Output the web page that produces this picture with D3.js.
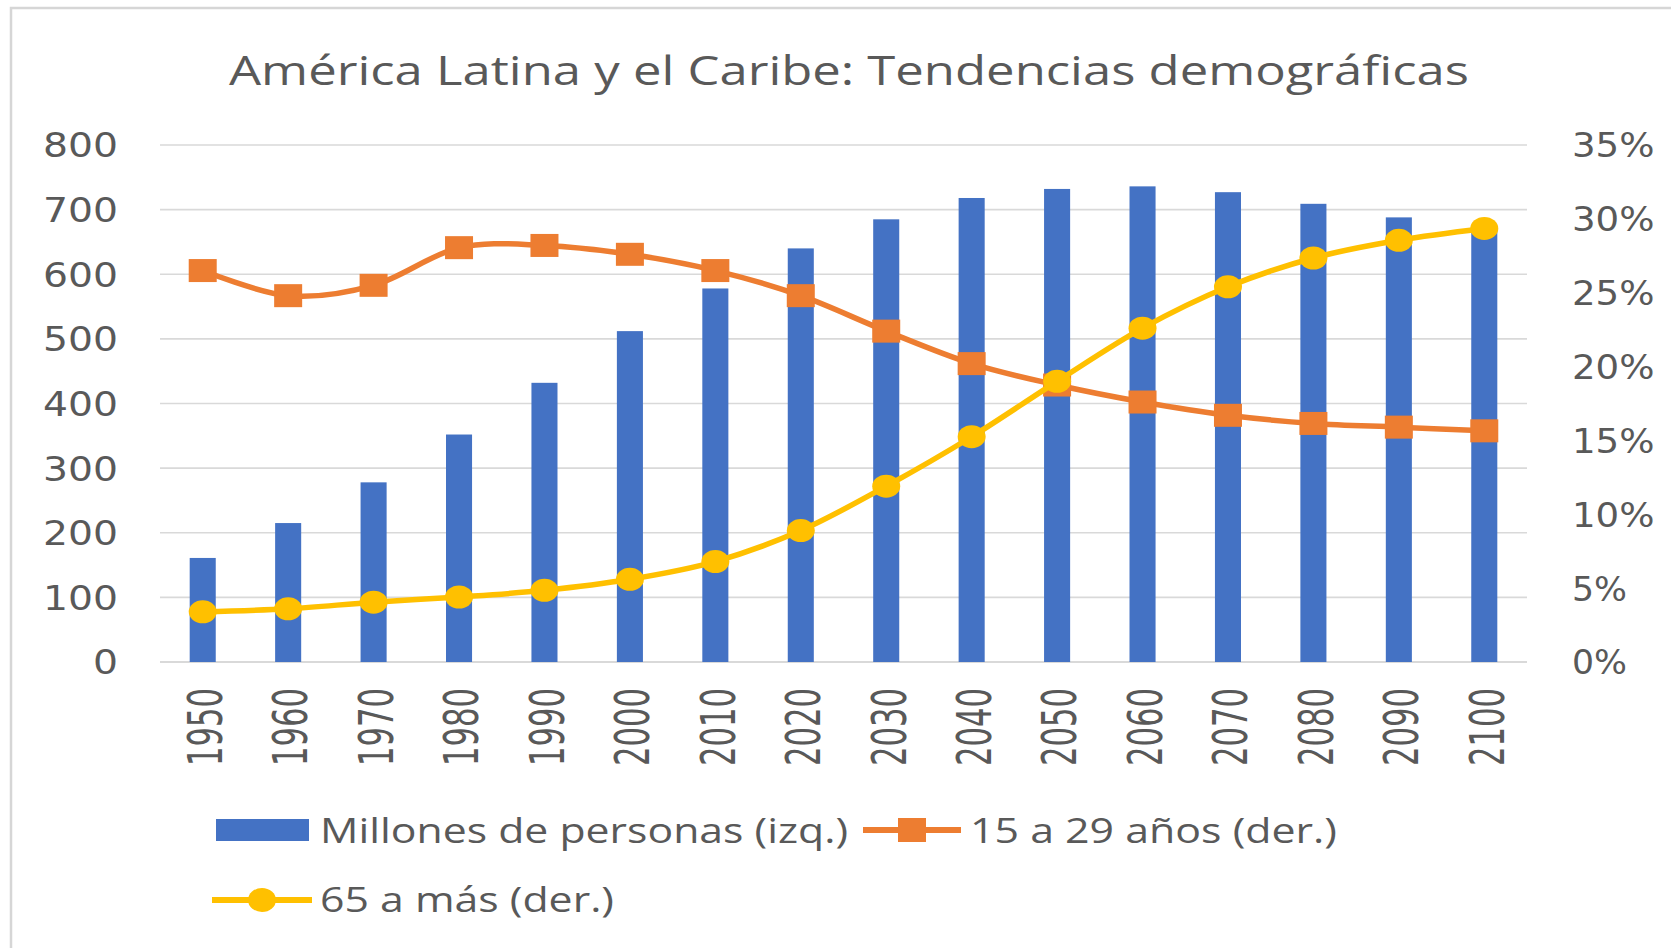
<!DOCTYPE html>
<html><head><meta charset="utf-8">
<script src="https://cdn.jsdelivr.net/npm/d3@7"></script>
<style>html,body{margin:0;padding:0;background:#fff;overflow:hidden}</style>
</head><body>
<svg id="chart" width="1671" height="948"></svg>
<script>
const years = ["1950","1960","1970","1980","1990","2000","2010","2020","2030","2040","2050","2060","2070","2080","2090","2100"];
const poblacion = [161, 215, 278, 352, 432, 512, 578, 640, 685, 718, 732, 736, 727, 709, 688, 669];
const jovenes = [26.5, 24.8, 25.5, 28.05, 28.2, 27.6, 26.5, 24.8, 22.4, 20.2, 18.75, 17.6, 16.7, 16.15, 15.9, 15.65];
const mayores = [3.4, 3.6, 4.05, 4.4, 4.85, 5.6, 6.8, 8.9, 11.9, 15.25, 19.0, 22.6, 25.4, 27.35, 28.55, 29.35];
const leftTicks = [0,100,200,300,400,500,600,700,800];
const rightTicks = [0,0.05,0.10,0.15,0.20,0.25,0.30,0.35];
const title = "América Latina y el Caribe: Tendencias demográficas";
const legendLabels = ["Millones de personas (izq.)", "15 a 29 años (der.)", "65 a más (der.)"];

const BLUE="#4472C4", ORANGE="#ED7D31", YELLOW="#FFC000", GRID="#D9D9D9", TXT="#595959";
const svg = d3.select("#chart");
const L=160, R=1527, T=145, B=662;

// border
svg.append("rect").attr("x",11).attr("y",8).attr("width",1700).attr("height",980)
  .attr("fill","#fff").attr("stroke","#D6D6D6").attr("stroke-width",2.5);

const x = d3.scaleBand().domain(years).range([L,R]).paddingInner(0.695).paddingOuter(0.3475);
const yL = d3.scaleLinear().domain([0,800]).range([B,T]);
const yR = d3.scaleLinear().domain([0,0.35]).range([B,T]);

// gridlines
svg.append("g").selectAll("line").data(leftTicks).join("line")
  .attr("x1",L).attr("x2",R).attr("y1",d=>yL(d)).attr("y2",d=>yL(d))
  .attr("stroke",GRID).attr("stroke-width",d=>d===0?2.2:1.6);

// title
svg.append("text").attr("x",849).attr("y",85).attr("text-anchor","middle")
  .attr("font-family","'Open Sans', sans-serif").attr("font-size",40).attr("fill",TXT)
  .attr("textLength",1240).attr("lengthAdjust","spacingAndGlyphs").text(title);

// left axis labels
const left = d3.axisLeft(yL).tickValues(leftTicks).tickSize(0).tickPadding(0).tickFormat(d3.format("d"));
const gl = svg.append("g").attr("transform",`translate(118,0)`).call(left);
gl.select(".domain").remove();
gl.selectAll("text").attr("font-family","'DejaVu Sans', sans-serif").attr("font-size",33)
  .attr("fill",TXT).attr("dy","0.36em")
  .attr("textLength",d=>String(d).length*25).attr("lengthAdjust","spacingAndGlyphs");

// right axis labels
const right = d3.axisRight(yR).tickValues(rightTicks).tickSize(0).tickPadding(0).tickFormat(d3.format(".0%"));
const gr = svg.append("g").attr("transform",`translate(1572,0)`).call(right);
gr.select(".domain").remove();
gr.selectAll("text").attr("font-family","'DejaVu Sans', sans-serif").attr("font-size",33)
  .attr("fill",TXT).attr("dy","0.36em").attr("text-anchor","start")
  .attr("textLength",d=>d3.format(".0%")(d).length*27.5).attr("lengthAdjust","spacingAndGlyphs");

// x labels (rotated)
const bottom = d3.axisBottom(x).tickSize(0).tickPadding(0);
const gb = svg.append("g").attr("transform",`translate(0,0)`).call(bottom);
gb.select(".domain").remove();
gb.selectAll(".tick").attr("transform",d=>`translate(${x(d)+x.bandwidth()/2+2},688)`);
gb.selectAll("text").attr("font-family","'DejaVu Sans', sans-serif").attr("font-size",48)
  .attr("fill",TXT).attr("transform","rotate(-90)").attr("text-anchor","end")
  .attr("x",0).attr("y",0).attr("dy","0.36em")
  .attr("textLength",78).attr("lengthAdjust","spacingAndGlyphs");

// bars
svg.append("g").selectAll("rect").data(poblacion).join("rect")
  .attr("x",(d,i)=>x(years[i])).attr("width",x.bandwidth())
  .attr("y",d=>yL(d)).attr("height",d=>B-yL(d)).attr("fill",BLUE);

const cx = i => x(years[i]) + x.bandwidth()/2;
const line = d3.line().x((d,i)=>cx(i)).curve(d3.curveCatmullRom.alpha(0));

// orange line
svg.append("path").datum(jovenes).attr("fill","none").attr("stroke",ORANGE).attr("stroke-width",5.5)
  .attr("d", line.y(d=>yR(d/100)));
svg.append("g").selectAll("rect").data(jovenes).join("rect")
  .attr("x",(d,i)=>cx(i)-14).attr("y",d=>yR(d/100)-11.5).attr("width",28).attr("height",23)
  .attr("fill",ORANGE);

// yellow line
svg.append("path").datum(mayores).attr("fill","none").attr("stroke",YELLOW).attr("stroke-width",5.5)
  .attr("d", line.y(d=>yR(d/100)));
svg.append("g").selectAll("ellipse").data(mayores).join("ellipse")
  .attr("cx",(d,i)=>cx(i)).attr("cy",d=>yR(d/100)).attr("rx",14).attr("ry",11.5)
  .attr("fill",YELLOW);

// legend
const lg = svg.append("g");
const lfont = "'Open Sans', sans-serif";
lg.append("rect").attr("x",216).attr("y",819).attr("width",93).attr("height",22).attr("fill",BLUE);
lg.append("text").attr("x",320).attr("y",843).attr("font-family",lfont).attr("font-size",35).attr("fill",TXT)
  .attr("textLength",528).attr("lengthAdjust","spacingAndGlyphs").text(legendLabels[0]);
lg.append("line").attr("x1",863).attr("x2",961).attr("y1",830).attr("y2",830).attr("stroke",ORANGE).attr("stroke-width",6);
lg.append("rect").attr("x",898).attr("y",818).attr("width",28).attr("height",24).attr("fill",ORANGE);
lg.append("text").attr("x",970).attr("y",843).attr("font-family",lfont).attr("font-size",35).attr("fill",TXT)
  .attr("textLength",367).attr("lengthAdjust","spacingAndGlyphs").text(legendLabels[1]);
lg.append("line").attr("x1",212).attr("x2",312).attr("y1",900).attr("y2",900).attr("stroke",YELLOW).attr("stroke-width",6);
lg.append("ellipse").attr("cx",262).attr("cy",900).attr("rx",14).attr("ry",12).attr("fill",YELLOW);
lg.append("text").attr("x",320).attr("y",912).attr("font-family",lfont).attr("font-size",35).attr("fill",TXT)
  .attr("textLength",294).attr("lengthAdjust","spacingAndGlyphs").text(legendLabels[2]);
</script>
</body></html>
